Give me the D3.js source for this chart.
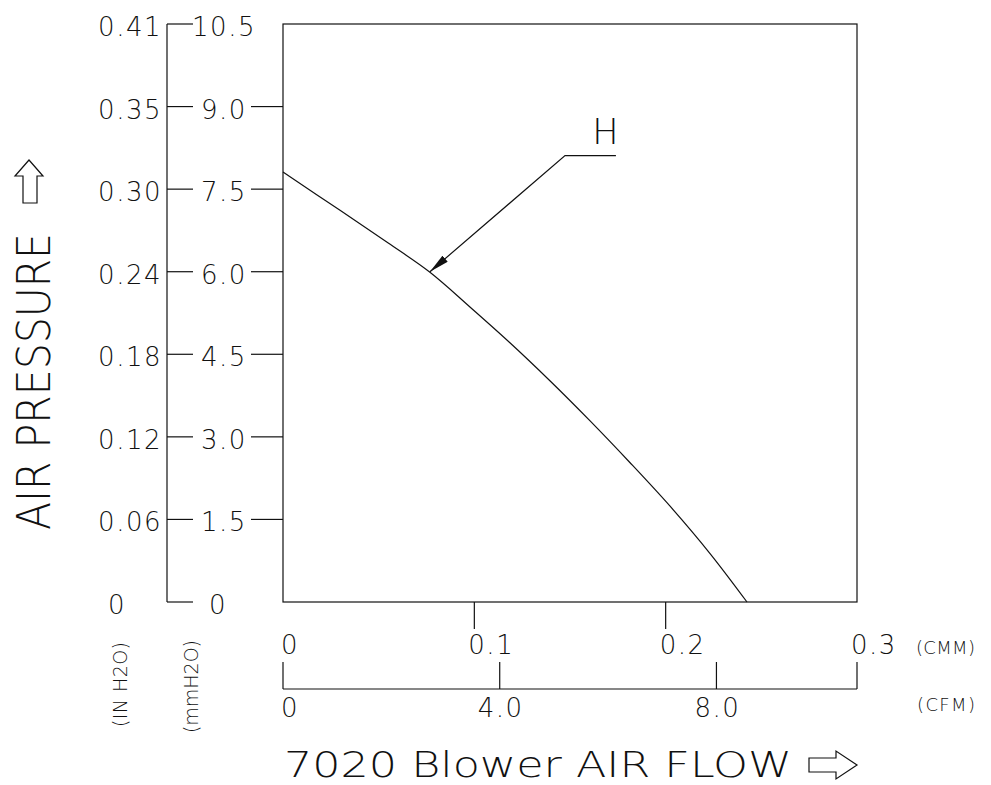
<!DOCTYPE html>
<html><head><meta charset="utf-8">
<script src="https://cdn.jsdelivr.net/npm/d3@7"></script>
<style>
html,body{margin:0;padding:0;background:#fff;}
text{font-family:"DejaVu Sans ExtraLight","DejaVu Sans Light","DejaVu Sans",sans-serif;font-weight:200;fill:#111;}
</style></head>
<body><svg id="c" width="991" height="785"></svg>
<script>
// ---- data ----
const pressureTicksMM = [0, 1.5, 3.0, 4.5, 6.0, 7.5, 9.0, 10.5];
const pressureLabelsMM = ["0", "1.5", "3.0", "4.5", "6.0", "7.5", "9.0", "10.5"];
const pressureLabelsIN = ["0", "0.06", "0.12", "0.18", "0.24", "0.30", "0.35", "0.41"];
const flowTicksCMM = [0, 0.1, 0.2, 0.3];
const flowLabelsCMM = ["0", "0.1", "0.2", "0.3"];
const flowTicksCFM = [0, 4, 8];
const flowLabelsCFM = ["0", "4.0", "8.0"];
const curveCMM  = [0, 0.03, 0.055, 0.0768, 0.0977, 0.1186, 0.1395, 0.1605, 0.1814, 0.2023, 0.2232, 0.2425];
const curveMMH2O = [7.81, 7.11, 6.52, 5.99, 5.36, 4.71, 4.02, 3.29, 2.53, 1.74, 0.88, 0];
const seriesName = "H";
const annotTarget = [0.0768, 6.0];
const annotElbow = [0.1474, 8.11];
const annotEnd = [0.174, 8.11];

const CFM_PER_CMM = 35.3147;
const svg = d3.select("#c");
const x = d3.scaleLinear().domain([0, 0.3]).range([283, 857]);
const xc = d3.scaleLinear().domain([0, 0.3 * CFM_PER_CMM]).range([283, 857]);
const y = d3.scaleLinear().domain([0, 10.5]).range([602, 24]);
const ink = "#111";

function line(x1, y1, x2, y2) {
  svg.append("line").attr("x1", x1).attr("y1", y1).attr("x2", x2).attr("y2", y2)
    .attr("stroke", ink).attr("stroke-width", 1.2);
}
function num(xp, yp, s, anchor) {
  return svg.append("text").attr("x", xp).attr("y", yp).attr("text-anchor", anchor || "start")
    .attr("font-size", 26).attr("letter-spacing", 1.5).text(s);
}

// plot box
svg.append("rect").attr("x", x(0)).attr("y", y(10.5)).attr("width", x(0.3) - x(0)).attr("height", y(0) - y(10.5))
  .attr("fill", "none").attr("stroke", ink).attr("stroke-width", 1.2);

// left double axis
const axX = 167;
line(axX, y(10.5), axX, y(0));
pressureTicksMM.forEach((t, i) => {
  line(axX, y(t), axX + 26, y(t));
  if (t > 0 && t < 10.5) line(251, y(t), x(0), y(t));
  const lab = pressureLabelsIN[i];
  if (lab.length === 1) num(117, y(t) + 12, lab, "middle");
  else num(162, y(t) + 12, lab, "end");
  num(pressureLabelsMM[i].length === 1 ? 218 : 224, y(t) + 12, pressureLabelsMM[i], "middle");
});

// CMM axis (box bottom)
flowTicksCMM.forEach((t, i) => {
  if (t > 0 && t < 0.3) line(x(t), y(0), x(t), y(0) + 27);
  const lab = flowLabelsCMM[i];
  num(x(t) + (lab.length === 1 ? -2 : -6), 654, lab);
});
svg.append("text").attr("x", 916).attr("y", 654).attr("font-size", 18)
  .attr("textLength", 59).text("(CMM)");

// CFM axis
const cfmY = 689;
line(xc(0), cfmY, xc.range()[1], cfmY);
flowTicksCFM.forEach((t, i) => {
  line(xc(t), cfmY, xc(t), cfmY - 27);
  const lab = flowLabelsCFM[i];
  if (lab.length === 1) num(xc(t) - 2, 717, lab);
  else num(xc(t) + 1, 717, lab, "middle");
});
line(xc.range()[1], cfmY, xc.range()[1], cfmY - 27);
svg.append("text").attr("x", 917).attr("y", 711).attr("font-size", 18)
  .attr("textLength", 58).text("(CFM)");

// curve
const pts = curveCMM.map((c, i) => [c, curveMMH2O[i]]);
svg.append("path").datum(pts)
  .attr("d", d3.line().x(d => x(d[0])).y(d => y(d[1])).curve(d3.curveCatmullRom.alpha(0.5)))
  .attr("fill", "none").attr("stroke", ink).attr("stroke-width", 1.2);

// annotation
svg.append("defs").append("marker").attr("id", "ah").attr("viewBox", "0 0 20 8")
  .attr("refX", 20).attr("refY", 4).attr("markerWidth", 20).attr("markerHeight", 8)
  .attr("markerUnits", "userSpaceOnUse").attr("orient", "auto")
  .append("path").attr("d", "M0,0 L20,4 L0,8 Z").attr("fill", ink);
svg.append("polyline")
  .attr("points", [annotEnd, annotElbow, annotTarget].map(p => x(p[0]) + "," + y(p[1])).join(" "))
  .attr("fill", "none").attr("stroke", ink).attr("stroke-width", 1.2).attr("marker-end", "url(#ah)");
svg.append("text").attr("x", (x(annotElbow[0]) + x(annotEnd[0])) / 2 + 15).attr("y", y(annotElbow[1]) - 12)
  .attr("text-anchor", "middle").attr("font-size", 35).text(seriesName);

// Y title (rotated) + hollow up arrow
svg.append("text").attr("transform", "translate(50,530) rotate(-90)")
  .attr("font-size", 46).attr("textLength", 297).attr("lengthAdjust", "spacingAndGlyphs")
  .text("AIR PRESSURE");
svg.append("path").attr("d", "M29,160 L43,176 L37,176 L37,203 L23,203 L23,176 L15,176 Z")
  .attr("fill", "none").attr("stroke", ink).attr("stroke-width", 1.2);

// unit labels (rotated)
svg.append("text").attr("transform", "translate(127,727) rotate(-90)")
  .attr("font-size", 19).attr("textLength", 85).text("(IN H2O)");
svg.append("text").attr("transform", "translate(198,733) rotate(-90)")
  .attr("font-size", 19).attr("textLength", 93).text("(mmH2O)");

// X title + hollow right arrow
svg.append("text").attr("x", 284).attr("y", 777).attr("font-size", 36)
  .attr("textLength", 508).attr("lengthAdjust", "spacingAndGlyphs").text("7020  Blower AIR  FLOW");
svg.append("path").attr("d", "M809,758 L836,758 L836,751 L857,765 L836,779 L836,772 L809,772 Z")
  .attr("fill", "none").attr("stroke", ink).attr("stroke-width", 1.2);
</script></body></html>
